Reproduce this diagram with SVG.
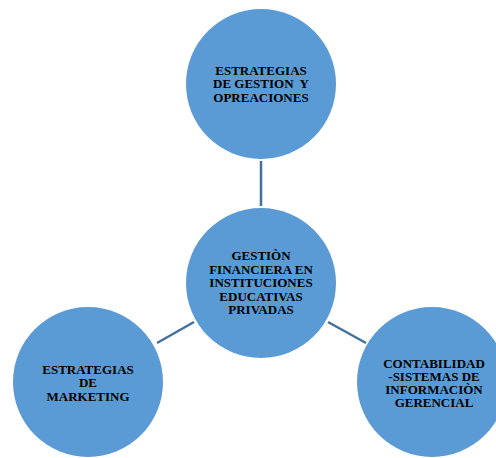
<svg xmlns="http://www.w3.org/2000/svg" width="496" height="458" viewBox="0 0 496 458">
<style>
.node circle{fill:#5B9BD5;}
.node text{font-family:"Liberation Serif","Times New Roman",serif;font-weight:bold;font-size:13px;fill:#000;text-anchor:middle;white-space:pre;}
.conn line{stroke:#41719C;stroke-width:2.5;}
</style>
<rect width="496" height="458" fill="#fff"/>
<g id="connectors" class="conn">
<line x1="261" y1="161" x2="261" y2="206"/>
<line x1="157" y1="343" x2="194" y2="322"/>
<line x1="328" y1="322" x2="366" y2="343"/>
</g>
<g id="node-top" class="node">
<circle cx="261" cy="84" r="75"/>
<text x="261" y="75">ESTRATEGIAS</text>
<text x="261" y="88">DE GESTION  Y</text>
<text x="261" y="102">OPREACIONES</text>
</g>
<g id="node-center" class="node">
<circle cx="261" cy="283" r="75"/>
<text x="261" y="260">GESTIÒN</text>
<text x="261" y="274">FINANCIERA EN</text>
<text x="261" y="287">INSTITUCIONES</text>
<text x="261" y="301">EDUCATIVAS</text>
<text x="261" y="314">PRIVADAS</text>
</g>
<g id="node-left" class="node">
<circle cx="88" cy="382" r="75"/>
<text x="88" y="374">ESTRATEGIAS</text>
<text x="88" y="387">DE</text>
<text x="88" y="401">MARKETING</text>
</g>
<g id="node-right" class="node">
<circle cx="432" cy="382" r="75"/>
<text x="434" y="368">CONTABILIDAD</text>
<text x="434" y="381">-SISTEMAS DE</text>
<text x="434" y="394">INFORMACIÒN</text>
<text x="434" y="407">GERENCIAL</text>
</g>
</svg>
